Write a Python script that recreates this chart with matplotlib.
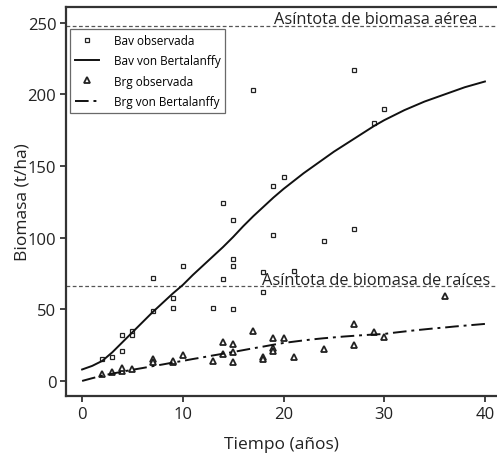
import matplotlib
matplotlib.use("Agg")
import matplotlib.pyplot as plt

plt.rcParams['font.family'] = ['Open Sans', 'DejaVu Sans']

# Bav observed (aboveground biomass)
bav_t = [2, 3, 4, 4, 5, 5, 7, 7, 9, 9, 10, 13, 14, 14, 15, 15, 15, 15,
         17, 18, 18, 19, 19, 20, 21, 24, 27, 27, 29, 30]
bav_b = [15, 17, 21, 32, 35, 32, 72, 49, 58, 51, 80, 51, 124, 71, 112, 85, 80, 50,
         203, 76, 62, 136, 102, 142, 77, 98, 217, 106, 180, 190]

# Brg observed (root biomass)
brg_t = [2, 3, 4, 4, 5, 7, 7, 9, 9, 10, 13, 14, 14, 15, 15, 15, 17, 18, 18,
         19, 19, 19, 20, 21, 24, 27, 27, 29, 30, 36]
brg_b = [5, 6, 7, 9, 8, 15, 13, 13, 14, 18, 14, 27, 19, 26, 20, 13, 35, 17, 15,
         30, 23, 21, 30, 17, 22, 40, 25, 34, 31, 59]

# von Bertalanffy fitted curves
fit_t = list(range(0, 41))
bav_fit = [8, 10.5, 14, 20, 27, 34, 41, 48, 54.5, 61, 67, 74, 80.5, 87, 93.5, 100.5,
           108, 115, 121.5, 128, 134, 139.5, 145, 150, 155, 160, 164.5, 169, 173.5, 178,
           182, 185.5, 189, 192, 195, 197.5, 200, 202.5, 205, 207, 209]
brg_fit = [0, 1.9, 3.7, 5.1, 6.5, 7.8, 9, 10.3, 11.5, 12.8, 14, 15.3, 16.5, 17.8, 19,
           20.2, 21.5, 22.8, 24, 25.3, 26.5, 27.4, 28.3, 29.1, 29.8, 30.4, 31, 31.5, 32,
           32.4, 32.8, 33.7, 34.5, 35.3, 36, 36.7, 37.3, 38, 38.6, 39.2, 39.8]

asym_bav = 248
asym_brg = 66

fig = plt.figure(figsize=(4.97, 4.60), dpi=100)
ax = fig.add_axes([0.1328, 0.137, 0.8672, 0.8456])

ax.axhline(asym_bav, color='#555555', ls=(0, (3, 2)), lw=0.9)
ax.axhline(asym_brg, color='#555555', ls=(0, (3, 2)), lw=0.9)

ax.plot(bav_t, bav_b, ls='none', marker='s', ms=3.5, mfc='white', mec='#222222', mew=0.9,
        label='Bav observada')
ax.plot(fit_t, bav_fit, color='#111111', lw=1.4, label='Bav von Bertalanffy')
ax.plot(brg_t, brg_b, ls='none', marker='^', ms=5, mfc='white', mec='#222222', mew=1.3,
        label='Brg observada')
ax.plot(fit_t, brg_fit, color='#111111', lw=1.4, ls=(0, (7, 2.5, 1.5, 2.5)),
        label='Brg von Bertalanffy')

ax.text(39.3, asym_bav - 1, 'Asíntota de biomasa aérea', ha='right', va='bottom', fontsize=11.8,
        color='#222222')
ax.text(40.5, asym_brg - 1, 'Asíntota de biomasa de raíces', ha='right', va='bottom', fontsize=11.8,
        color='#222222')

ax.set_xlim(-1.6, 41.2)
ax.set_ylim(-10.5, 261)
ax.set_xticks([0, 10, 20, 30, 40])
ax.set_yticks([0, 50, 100, 150, 200, 250])
ax.tick_params(direction='out', length=4.5, width=1.2, pad=2.5, labelsize=12, colors='#222222')

for s in ['left', 'bottom', 'top']:
    ax.spines[s].set_linewidth(1.6)
    ax.spines[s].set_color('#333333')
ax.spines['right'].set_visible(False)

ax.set_xlabel('Tiempo (años)', fontsize=12.5, color='#222222', labelpad=10)
ax.set_ylabel('Biomasa (t/ha)', fontsize=12.5, color='#222222', labelpad=-2)

leg = ax.legend(loc='upper left', bbox_to_anchor=(0.009, 0.943), borderaxespad=0, fontsize=8.5,
                frameon=True, fancybox=False, edgecolor='#444444', handlelength=2.1,
                borderpad=0.4, labelspacing=0.62, handletextpad=1.2)
leg.get_frame().set_linewidth(0.9)

plt.savefig("out.png", dpi=100)
plt.close()
